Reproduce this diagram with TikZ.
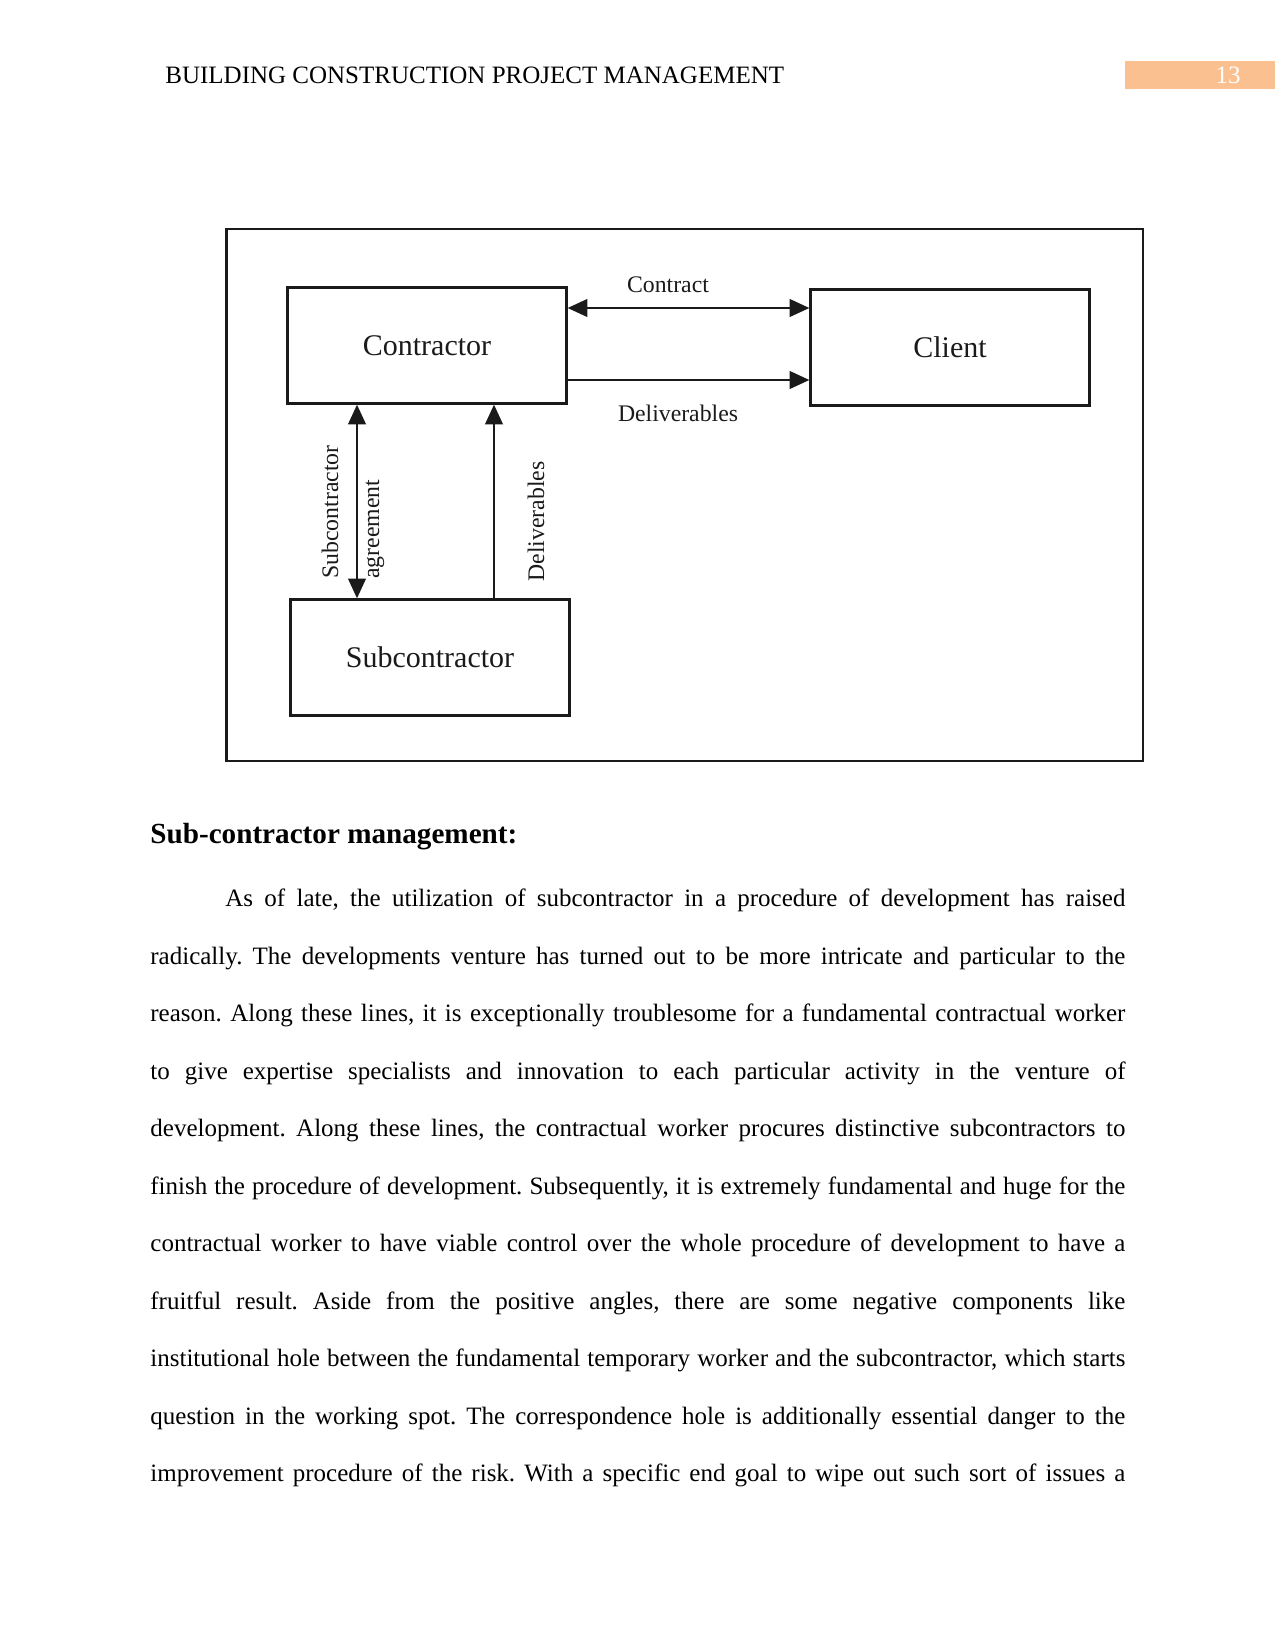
\documentclass[tikz,border=0pt]{standalone}
\usepackage{fontspec}
\setmainfont{Liberation Serif}
\usetikzlibrary{arrows.meta}
\definecolor{pgorange}{HTML}{FAC08F}
\definecolor{ink}{HTML}{1A1A1A}
\frenchspacing
\tikzset{
  box/.style={draw=ink, line width=1.1pt, minimum width=133.9pt, minimum height=55.7pt, inner sep=0pt, font=\fontsize{14.4}{16}\selectfont, text=ink},
  conn/.style={draw=ink, line width=1pt, -{Triangle[length=9.5pt,width=8.5pt]}},
  dconn/.style={draw=ink, line width=1pt, {Triangle[length=9.5pt,width=8.5pt]}-{Triangle[length=9.5pt,width=8.5pt]}},
  lbl/.style={font=\fontsize{11.4}{13}\selectfont, text=ink, inner sep=0pt},
  bodyline/.style={anchor=base west, inner sep=0pt, font=\fontsize{12}{14}\selectfont},
}
\newcommand{\jl}[1]{\hbox to 468pt{#1}}
\newcommand{\jlf}[1]{\hbox to 432pt{#1}}
\begin{document}
\begin{tikzpicture}[x=0.48pt,y=-0.48pt]
\useasboundingbox (0,0) rectangle (1275,1650);
% header
\node[bodyline] (hdr) at (165,84) {BUILDING CONSTRUCTION PROJECT MANAGEMENT};
\fill[pgorange] (1125,61) rectangle (1275,89);
\node[anchor=base, inner sep=0pt, text=white, font=\fontsize{12}{14}\selectfont] (pnum) at (1228,84) {13};
% frame
\node[draw=ink, line width=1.3pt, minimum width=440pt, minimum height=255.4pt, inner sep=0pt] (frame) at (684.5,495) {};
% boxes
\node[box] (contractor) at (427,345.5) {Contractor};
\node[box] (client) at (950,347.5) {Client};
\node[box] (sub) at (430,657.5) {Subcontractor};
% connectors
\coordinate (c1) at (contractor.east |- 0,308);
\coordinate (k1) at (client.west |- 0,308);
\draw[dconn] (c1) -- (k1);
\coordinate (c2) at (contractor.east |- 0,380);
\coordinate (k2) at (client.west |- 0,380);
\draw[conn] (c2) -- (k2);
\coordinate (v1) at (357,0);
\draw[dconn] (contractor.south -| v1) -- (sub.north -| v1);
\coordinate (v2) at (494,0);
\draw[conn] (sub.north -| v2) -- (contractor.south -| v2);
% labels
\node[lbl] (lcontract) at (668,285) {Contract};
\node[lbl] (ldeliv) at (678,413) {Deliverables};
\node[lbl, rotate=90, anchor=west] (lsub) at (330,579) {Subcontractor};
\node[lbl, rotate=90, anchor=west] (lagr) at (375,579) {agreement};
\node[lbl, rotate=90, anchor=west] (ldel2) at (536,582) {Deliverables};
% heading
\node[anchor=base west, inner sep=0pt, font=\fontsize{14}{16}\selectfont\bfseries] (head) at (150,843) {Sub-contractor management:};
% body
\node[bodyline] (l1) at (225,906.5) {\jlf{As of late, the utilization of subcontractor in a procedure of development has raised}};
\node[bodyline] (l2) at (150,964) {\jl{radically. The developments venture has turned out to be more intricate and particular to the}};
\node[bodyline] (l3) at (150,1021.5) {\jl{reason. Along these lines, it is exceptionally troublesome for a fundamental contractual worker}};
\node[bodyline] (l4) at (150,1079) {\jl{to give expertise specialists and innovation to each particular activity in the venture of}};
\node[bodyline] (l5) at (150,1136.5) {\jl{development. Along these lines, the contractual worker procures distinctive subcontractors to}};
\node[bodyline] (l6) at (150,1194) {\jl{finish the procedure of development. Subsequently, it is extremely fundamental and huge for the}};
\node[bodyline] (l7) at (150,1251.5) {\jl{contractual worker to have viable control over the whole procedure of development to have a}};
\node[bodyline] (l8) at (150,1309) {\jl{fruitful result. Aside from the positive angles, there are some negative components like}};
\node[bodyline] (l9) at (150,1366.5) {\jl{institutional hole between the fundamental temporary worker and the subcontractor, which starts}};
\node[bodyline] (l10) at (150,1424) {\jl{question in the working spot. The correspondence hole is additionally essential danger to the}};
\node[bodyline] (l11) at (150,1481.5) {\jl{improvement procedure of the risk. With a specific end goal to wipe out such sort of issues a}};
\end{tikzpicture}
\end{document}
